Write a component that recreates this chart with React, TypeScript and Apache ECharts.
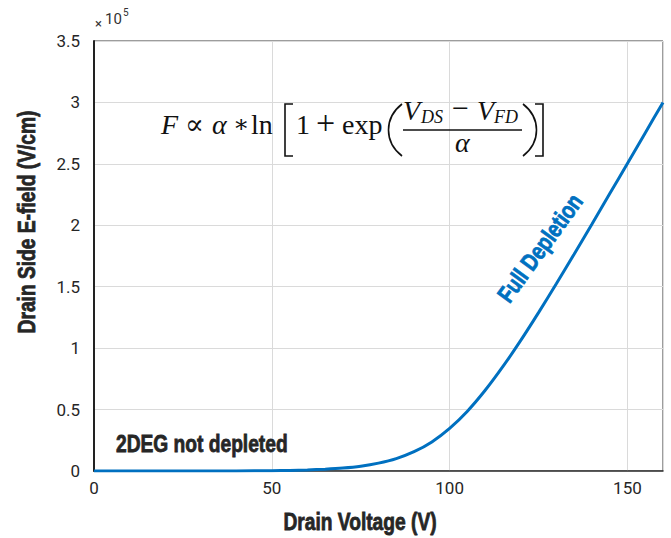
import React, { useEffect, useRef } from "react";
import * as echarts from "echarts";

// Drain voltage (V) and drain-side electric field (×10^5 V/cm)
const voltage = [0, 10, 20, 30, 40, 50, 55, 60, 65, 70, 75, 80, 85, 90, 95, 100, 105, 110, 115, 120, 125, 130, 135, 140, 145, 150, 155, 160];
const field = [0, 0, 0, 0, 0.001, 0.003, 0.005, 0.009, 0.015, 0.024, 0.039, 0.064, 0.101, 0.157, 0.237, 0.347, 0.487, 0.657, 0.851, 1.063, 1.289, 1.524, 1.765, 2.009, 2.256, 2.503, 2.752, 3.0];

const xTitle = "Drain Voltage (V)";
const yTitle = "Drain Side E-field (V/cm)";
const lowLabel = "2DEG not depleted";
const curveLabel = "Full Depletion";

const BLUE = "#0070C0";
const INK = "#262626";
const TICK_FONT = 'Roboto, "Noto Sans", sans-serif';
const BOLD_FONT = '"Liberation Sans", Arial, sans-serif';
const SERIF = '"Liberation Serif", "DejaVu Serif", serif';
const NARROW = 0.8; // horizontal squeeze for the condensed bold captions

// text placed by its alphabetic baseline (converted to a middle anchor)
function mathText(text: string, x: number, baseline: number, size: number, italic = false) {
  return {
    type: "text",
    x,
    y: baseline - 0.34 * size,
    z: 20,
    style: {
      text,
      fill: "#111",
      font: `${italic ? "italic " : ""}${size}px ${SERIF}`,
      textAlign: "left",
      textVerticalAlign: "middle",
    },
  };
}

function formula() {
  const s = 28;
  const sub = 18;
  const stroke = { stroke: "#111", lineWidth: 1.6, fill: "none" };
  return [
    mathText("F", 161, 134, s, true),
    mathText("\u221D", 185, 134, s),
    mathText("\u03B1", 212, 134, s, true),
    mathText("\u2217", 233, 132, 24),
    mathText("ln", 251, 134, s),
    { type: "polyline", z: 20, shape: { points: [[293, 104], [285, 104], [285, 156], [293, 156]] }, style: stroke },
    mathText("1", 296, 134, s),
    mathText("+", 316, 134, 34),
    mathText("exp", 342, 134, s),
    { type: "bezierCurve", z: 20, shape: { x1: 402, y1: 104, cpx1: 384, cpy1: 118, cpx2: 384, cpy2: 142, x2: 402, y2: 156 }, style: stroke },
    mathText("V", 403, 120, s, true),
    mathText("DS", 421, 123, sub, true),
    mathText("\u2212", 452, 118, 30),
    mathText("V", 477, 120, s, true),
    mathText("FD", 494, 123, sub, true),
    { type: "line", z: 20, shape: { x1: 403, y1: 130, x2: 522, y2: 130 }, style: { stroke: "#111", lineWidth: 1.3 } },
    mathText("\u03B1", 455, 152, s, true),
    { type: "bezierCurve", z: 20, shape: { x1: 523, y1: 104, cpx1: 541, cpy1: 118, cpx2: 541, cpy2: 142, x2: 523, y2: 156 }, style: stroke },
    { type: "polyline", z: 20, shape: { points: [[535, 104], [543, 104], [543, 156], [535, 156]] }, style: stroke },
  ];
}

function caption(text: string, x: number, y: number, color: string, align: string, rotation = 0) {
  return {
    type: "text",
    x,
    y,
    z: 20,
    rotation,
    scaleX: NARROW,
    style: {
      text,
      fill: color,
      stroke: color,
      lineWidth: 0.8,
      font: `bold 24px ${BOLD_FONT}`,
      textAlign: align,
      textVerticalAlign: "middle",
    },
  };
}

export default function App() {
  const ref = useRef<HTMLDivElement>(null);

  useEffect(() => {
    document.body.style.margin = "0";
    const chart = echarts.init(ref.current!, undefined, { renderer: "svg" });
    chart.setOption({
      animation: false,
      grid: {
        left: 94,
        top: 41,
        right: 8,
        bottom: 67,
        show: true,
        borderColor: "#3a3a3a",
        borderWidth: 1,
      },
      xAxis: {
        type: "value",
        min: 0,
        max: 160,
        interval: 50,
        axisLine: { show: true, onZero: false, lineStyle: { color: "#333", width: 1.5 } },
        axisTick: { show: false },
        splitLine: { show: true, lineStyle: { color: "#dadada", width: 1 } },
        axisLabel: { color: INK, fontFamily: TICK_FONT, fontSize: 17, margin: 8, showMaxLabel: false },
      },
      yAxis: {
        type: "value",
        min: 0,
        max: 3.5,
        interval: 0.5,
        axisLine: { show: true, lineStyle: { color: "#222", width: 2 } },
        axisTick: { show: false },
        splitLine: { show: true, lineStyle: { color: "#dadada", width: 1 } },
        axisLabel: { color: INK, fontFamily: TICK_FONT, fontSize: 17, margin: 14 },
      },
      series: [
        {
          type: "line",
          data: voltage.map((v, i) => [v, field[i]]),
          showSymbol: false,
          smooth: 0.2,
          lineStyle: { color: BLUE, width: 3 },
          z: 5,
        },
      ],
      graphic: [
        { type: "text", x: 95, y: 23, style: { text: "\u00D7", fill: "#333", font: `13px ${TICK_FONT}`, textVerticalAlign: "middle" } },
        { type: "text", x: 105, y: 19, style: { text: "10", fill: "#333", font: `15px ${TICK_FONT}`, textVerticalAlign: "middle" } },
        { type: "text", x: 123, y: 12, style: { text: "5", fill: "#333", font: `10px ${TICK_FONT}`, textVerticalAlign: "middle" } },
        caption(xTitle, 360, 522, INK, "center"),
        caption(yTitle, 27, 222, INK, "center", Math.PI / 2),
        caption(lowLabel, 116, 444, INK, "left"),
        caption(curveLabel, 540, 248, BLUE, "center", (54 * Math.PI) / 180),
        ...formula(),
      ],
    });
    return () => chart.dispose();
  }, []);

  return <div ref={ref} style={{ width: 671, height: 538 }} />;
}
